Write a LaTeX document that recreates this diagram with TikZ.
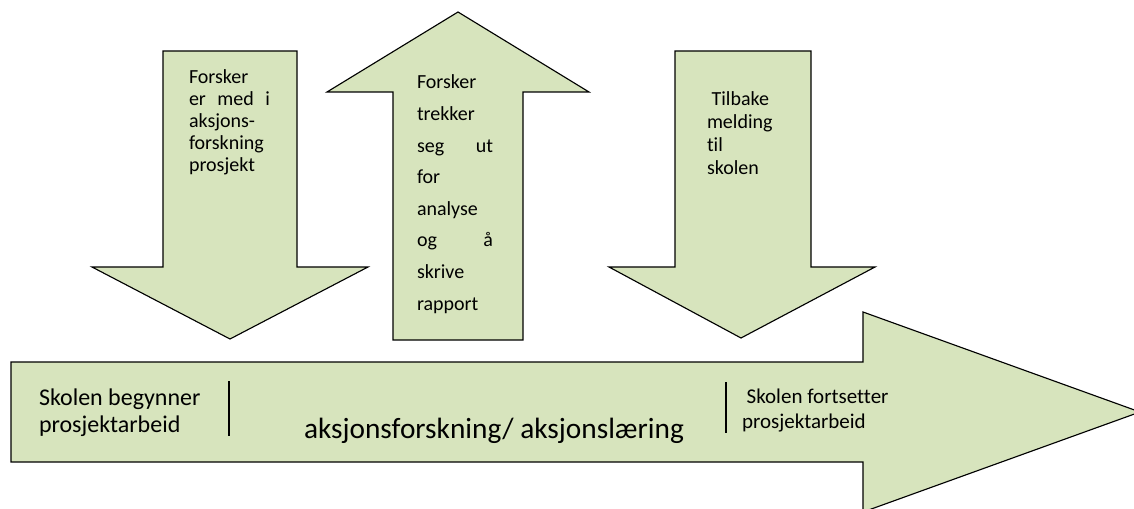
\documentclass[tikz,border=0pt]{standalone}
\usepackage{fontspec}
\setmainfont{Carlito}[Ligatures=NoCommon]
\definecolor{leaf}{HTML}{D7E4BD}
\tikzset{
  block/.style={fill=leaf, draw=black, line width=0.85pt, line join=miter},
  sep/.style={draw=black, line width=1.4pt},
  lbl/.style={anchor=base west, inner sep=0pt, outer sep=0pt},
}
\newcommand{\spread}[1]{\makebox[\linewidth][s]{#1}}
\begin{document}
\begin{tikzpicture}[x=0.75pt,y=-0.75pt]
\useasboundingbox (0,0) rectangle (1134,509);

% timeline arrow along the bottom
\begin{scope}
  \clip (0,0) rectangle (1134,509);
  \path[block] (11,362) -- (863,362) -- (863,312) -- (1140,412)
     -- (863,512) -- (863,462) -- (11,462) -- cycle;
\end{scope}

% down arrow on the left
\path[block] (163,51) -- (297,51) -- (297,267) -- (368,267) -- (230,339)
   -- (92,267) -- (163,267) -- cycle;
% up arrow in the middle
\path[block] (393,340) -- (393,92) -- (327,92) -- (458,12) -- (589,92)
   -- (523,92) -- (523,340) -- cycle;
% down arrow on the right
\path[block] (675,51) -- (811,51) -- (811,267) -- (875,267) -- (741,338)
   -- (609,267) -- (675,267) -- cycle;

% texts in the vertical arrows
\node[lbl] (t1) at (189,84) {\parbox[t]{60.75pt}{\fontsize{15}{16.5}\selectfont
  Forsker\par\spread{er med i}\par aksjons-\par forskning\par prosjekt}};
\node[lbl] (t2) at (417,89) {\parbox[t]{57pt}{\fontsize{15}{23.7}\selectfont
  Forsker\par trekker\par\spread{seg ut}\par for\par analyse\par\spread{og å}\par skrive\par rapport}};
\node[lbl] (t3) at (707,106) {\parbox[t]{70pt}{\fontsize{15}{17.25}\selectfont
  \hspace*{3.5pt}Tilbake\par melding\par til\par skolen}};

% texts in the timeline
\node[lbl] (s1) at (39,405) {\parbox[t]{150pt}{\fontsize{18}{20.25}\selectfont
  Skolen begynner\par prosjektarbeid}};
\node[lbl] (mid) at (304,438) {\fontsize{22}{24}\selectfont aksjonsforskning/ aksjonslæring};
\node[lbl] (s2) at (742,403) {\parbox[t]{150pt}{\fontsize{15.75}{18.75}\selectfont
  \hspace*{3.5pt}Skolen fortsetter\par prosjektarbeid}};

% separators between the timeline phases
\coordinate (l1) at (229,381);
\coordinate (l2) at (229,436);
\coordinate (r1) at (726,382);
\coordinate (r2) at (726,433);
\draw[sep] (l1) -- (l2);
\draw[sep] (r1) -- (r2);
\end{tikzpicture}
\end{document}
